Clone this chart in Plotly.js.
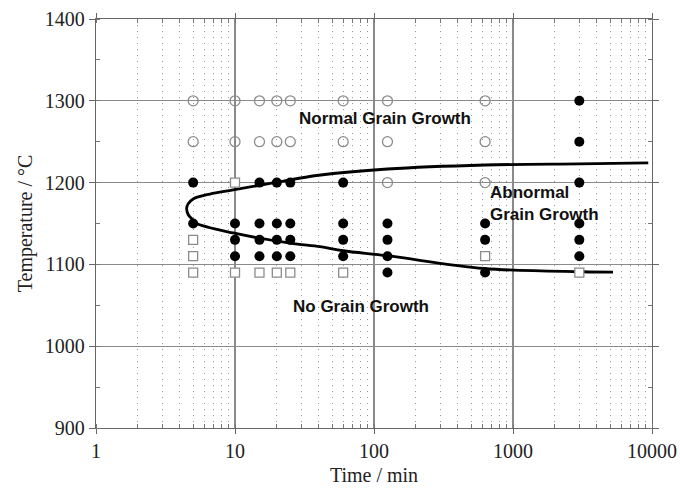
<!DOCTYPE html>
<html>
<head>
<meta charset="utf-8">
<script src="https://cdn.plot.ly/plotly-3.0.1.min.js"></script>
<style>html,body{margin:0;padding:0;background:#fff;}#chart{width:680px;height:488px;}</style>
</head>
<body>
<div id="chart"></div>
<script>
// Normal grain growth (open circles)
const normalTime = [5,10,15,20,25,60,125,630, 5,10,15,20,25,60,125,630, 125,630];
const normalTemp = [1300,1300,1300,1300,1300,1300,1300,1300, 1250,1250,1250,1250,1250,1250,1250,1250, 1200,1200];
// Abnormal grain growth (filled circles)
const abnormalTime = [5,5, 10,10,10, 15,15,15,15, 20,20,20,20, 25,25,25,25, 60,60,60,60, 125,125,125,125, 630,630,630, 3000,3000,3000,3000,3000,3000];
const abnormalTemp = [1200,1150, 1150,1130,1110, 1200,1150,1130,1110, 1200,1150,1130,1110, 1200,1150,1130,1110, 1200,1150,1130,1110, 1150,1130,1110,1090, 1150,1130,1090, 1300,1250,1200,1150,1130,1110];
// No grain growth (open squares)
const noGrowthTime = [5,5,5, 10,10, 15,20,25,60, 630, 3000];
const noGrowthTemp = [1130,1110,1090, 1200,1090, 1090,1090,1090,1090, 1110, 1090];
// Boundary curve
const curveTime = [9400, 3000, 630, 125, 40, 20, 9.7, 6.6, 5, 4.6, 4.49, 4.6, 5, 5.3, 9.7, 24.9, 40.9, 60, 125, 620, 3150, 5240];
const curveTemp = [1224, 1223, 1221.5, 1216.6, 1209, 1200.5, 1191, 1186, 1180, 1174, 1168.6, 1161, 1154, 1150, 1138.4, 1126, 1121.6, 1116.7, 1110.6, 1095, 1091, 1090.5];
// Region labels
const labelText = ["Normal Grain Growth", "Abnormal<br>Grain Growth", "No Grain Growth"];
const labelTime = [120, 660, 80];
const labelTemp = [1278, 1175, 1049];
const labelAnchor = ["center", "left", "center"];

const traces = [
  {x: curveTime, y: curveTemp, mode: 'lines', line: {color: '#000', width: 2.8, shape: 'spline', smoothing: 1}, hoverinfo: 'skip'},
  {x: normalTime, y: normalTemp, mode: 'markers', marker: {symbol: 'circle-open', size: 10, color: '#8c8c8c', line: {width: 1.3}}},
  {x: noGrowthTime, y: noGrowthTemp, mode: 'markers', marker: {symbol: 'square', size: 9, color: '#fff', line: {width: 1.3, color: '#8c8c8c'}}},
  {x: abnormalTime, y: abnormalTemp, mode: 'markers', marker: {symbol: 'circle', size: 10, color: '#000'}}
];

const tickFont = {family: 'Liberation Serif, Times New Roman, serif', size: 20, color: '#222'};

const layout = {
  width: 680, height: 488,
  margin: {l: 96, r: 28, t: 19, b: 60},
  paper_bgcolor: '#fff', plot_bgcolor: '#fff',
  showlegend: false,
  xaxis: {
    type: 'log', range: [0, 4], dtick: 1,
    tickvals: [1, 10, 100, 1000, 10000], ticktext: ['1', '10', '100', '1000', '10000'],
    showgrid: true, gridcolor: '#8a8a8a', gridwidth: 1.3,
    showline: true, linecolor: '#666', linewidth: 1.3, mirror: 'allticks',
    ticks: 'outside', ticklen: 5, tickcolor: '#666',
    tickfont: tickFont,
    minor: {dtick: 'D1', showgrid: true, gridcolor: '#999', gridwidth: 1.2, griddash: '1px,5px', ticks: 'inside', ticklen: 4, tickcolor: '#777'},
    title: {text: 'Time / min', font: {family: 'Liberation Serif, Times New Roman, serif', size: 20, color: '#222'}, standoff: 6},
    zeroline: false
  },
  yaxis: {
    range: [900, 1400], dtick: 100,
    showgrid: true, gridcolor: '#8a8a8a', gridwidth: 1.3,
    showline: true, linecolor: '#666', linewidth: 1.3, mirror: 'allticks',
    ticks: 'outside', ticklen: 6, tickcolor: '#666',
    tickfont: tickFont,
    minor: {dtick: 50, showgrid: false, ticks: 'inside', ticklen: 4, tickcolor: '#777'},
    title: {text: 'Temperature / °C', font: {family: 'Liberation Serif, Times New Roman, serif', size: 20, color: '#222'}, standoff: 6},
    zeroline: false
  },
  annotations: labelText.map((t, i) => ({
    x: Math.log10(labelTime[i]), y: labelTemp[i], xref: 'x', yref: 'y',
    text: t, showarrow: false, xanchor: labelAnchor[i], align: 'left',
    font: {family: 'Liberation Sans, Arial, sans-serif', size: 17, color: '#111', weight: 'bold'}
  }))
};

Plotly.newPlot('chart', traces, layout, {staticPlot: true, displayModeBar: false});
</script>
</body>
</html>
